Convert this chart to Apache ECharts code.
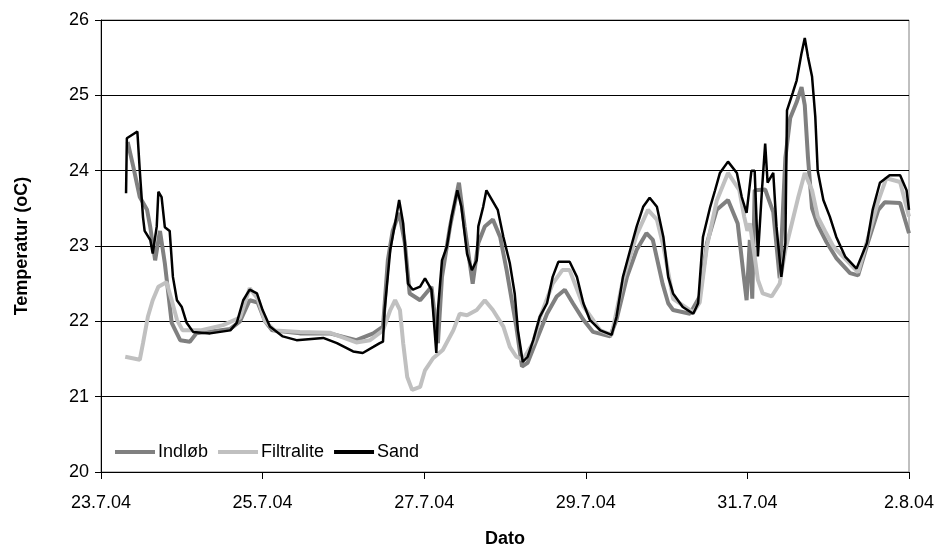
<!DOCTYPE html>
<html>
<head>
<meta charset="utf-8">
<script src="https://cdn.jsdelivr.net/npm/echarts@6/dist/echarts.min.js"></script>
<style>
    html, body { margin: 0; padding: 0; background: #fff; }
    #chart { width: 947px; height: 548px; }
</style>
</head>
<body>
<div id="chart"></div>
<script>
// x = days after 23.7.04, y = temperature (oC)
var dateLabels = ['23.7.04', '25.7.04', '27.7.04', '29.7.04', '31.7.04', '2.8.04'];
var seriesNames = ['Indløb', 'Filtralite', 'Sand'];

var indlobData = [
    [0.33, 24.38], [0.40, 24.05], [0.48, 23.65], [0.57, 23.48], [0.61, 23.25], [0.67, 22.81],
    [0.73, 23.2], [0.79, 22.77], [0.875, 21.98], [0.98, 21.75], [1.10, 21.73], [1.18, 21.84],
    [1.60, 21.9], [1.72, 22.0], [1.84, 22.28], [1.94, 22.25], [2.03, 22.0], [2.12, 21.88],
    [2.46, 21.84], [2.83, 21.84], [3.16, 21.75], [3.37, 21.84], [3.49, 21.93], [3.55, 22.81],
    [3.61, 23.2], [3.69, 23.44], [3.76, 23.04], [3.82, 22.37], [3.95, 22.28], [4.09, 22.46],
    [4.17, 21.71], [4.22, 22.59], [4.32, 23.26], [4.43, 23.84], [4.50, 23.26], [4.60, 22.5],
    [4.67, 23.04], [4.75, 23.26], [4.85, 23.35], [4.94, 23.12], [5.02, 22.68], [5.14, 21.93],
    [5.21, 21.4], [5.28, 21.45], [5.39, 21.75], [5.52, 22.1], [5.64, 22.33], [5.74, 22.42],
    [5.84, 22.24], [5.97, 22.02], [6.09, 21.86], [6.30, 21.8], [6.38, 22.02], [6.51, 22.59],
    [6.63, 22.95], [6.75, 23.17], [6.83, 23.08], [6.95, 22.5], [7.02, 22.24], [7.08, 22.15],
    [7.29, 22.1], [7.41, 22.33], [7.50, 23.04], [7.62, 23.48], [7.76, 23.61], [7.88, 23.3],
    [7.95, 22.64], [7.99, 22.28], [8.03, 23.08], [8.06, 22.3], [8.09, 23.74], [8.22, 23.75],
    [8.32, 23.45], [8.40, 22.57], [8.47, 24.17], [8.53, 24.7], [8.61, 24.91], [8.67, 25.11],
    [8.71, 24.87], [8.75, 24.17], [8.80, 23.5], [8.87, 23.28], [8.98, 23.05], [9.10, 22.84],
    [9.27, 22.64], [9.37, 22.61], [9.49, 23.04], [9.62, 23.48], [9.70, 23.58], [9.89, 23.57],
    [10.0, 23.17]
];

var filtraliteData = [
    [0.30, 21.53], [0.48, 21.49], [0.52, 21.71], [0.58, 22.06], [0.64, 22.28], [0.71, 22.46],
    [0.81, 22.52], [0.875, 22.28], [0.94, 22.02], [1.01, 21.88], [1.23, 21.88], [1.51, 21.95],
    [1.72, 22.05], [1.84, 22.44], [1.94, 22.3], [2.03, 22.0], [2.15, 21.88], [2.46, 21.86],
    [2.83, 21.85], [3.16, 21.72], [3.33, 21.75], [3.49, 21.88], [3.58, 22.15], [3.64, 22.28],
    [3.70, 22.15], [3.74, 21.71], [3.79, 21.26], [3.85, 21.09], [3.95, 21.13], [4.01, 21.35],
    [4.11, 21.51], [4.23, 21.62], [4.36, 21.88], [4.44, 22.1], [4.53, 22.08], [4.65, 22.15],
    [4.75, 22.28], [4.85, 22.15], [4.98, 21.93], [5.06, 21.66], [5.14, 21.53], [5.22, 21.49],
    [5.35, 21.72], [5.43, 22.04], [5.59, 22.5], [5.71, 22.68], [5.80, 22.68], [5.97, 22.2],
    [6.18, 21.88], [6.32, 21.82], [6.46, 22.55], [6.63, 23.15], [6.77, 23.48], [6.88, 23.35],
    [6.96, 23.0], [7.08, 22.3], [7.33, 22.12], [7.41, 22.25], [7.50, 23.0], [7.62, 23.6],
    [7.76, 23.97], [7.90, 23.74], [7.96, 23.39], [8.00, 23.2], [8.03, 23.3], [8.09, 22.86],
    [8.13, 22.55], [8.19, 22.37], [8.30, 22.33], [8.40, 22.5], [8.47, 22.95], [8.55, 23.3],
    [8.63, 23.65], [8.71, 23.97], [8.80, 23.74], [8.87, 23.39], [8.96, 23.2], [9.06, 23.0],
    [9.37, 22.65], [9.49, 23.1], [9.62, 23.6], [9.72, 23.9], [9.89, 23.85], [10.0, 23.39]
];

var sandData = [
    [0.31, 23.7], [0.32, 24.43], [0.45, 24.52], [0.48, 24.0], [0.52, 23.38], [0.54, 23.2],
    [0.61, 23.08], [0.64, 22.9], [0.69, 23.26], [0.71, 23.72], [0.75, 23.65], [0.79, 23.25],
    [0.85, 23.2], [0.89, 22.59], [0.94, 22.28], [1.0, 22.19], [1.06, 21.98], [1.14, 21.86],
    [1.35, 21.84], [1.60, 21.88], [1.68, 21.98], [1.76, 22.28], [1.84, 22.42], [1.93, 22.37],
    [2.0, 22.15], [2.09, 21.93], [2.25, 21.8], [2.42, 21.75], [2.75, 21.78], [2.92, 21.71],
    [3.12, 21.6], [3.24, 21.58], [3.37, 21.66], [3.45, 21.71], [3.49, 21.73], [3.51, 22.15],
    [3.58, 22.95], [3.64, 23.3], [3.69, 23.61], [3.74, 23.3], [3.80, 22.5], [3.86, 22.42],
    [3.95, 22.46], [4.01, 22.57], [4.09, 22.42], [4.15, 21.58], [4.17, 22.15], [4.22, 22.81],
    [4.28, 22.99], [4.34, 23.39], [4.41, 23.74], [4.46, 23.52], [4.53, 22.9], [4.59, 22.68],
    [4.65, 22.81], [4.67, 23.26], [4.73, 23.52], [4.77, 23.74], [4.84, 23.61], [4.91, 23.48],
    [4.98, 23.12], [5.06, 22.77], [5.12, 22.37], [5.16, 21.88], [5.22, 21.46], [5.28, 21.53],
    [5.35, 21.75], [5.43, 22.06], [5.52, 22.24], [5.59, 22.59], [5.66, 22.79], [5.80, 22.79],
    [5.89, 22.59], [5.97, 22.24], [6.05, 22.02], [6.18, 21.88], [6.32, 21.82], [6.38, 22.06],
    [6.46, 22.59], [6.55, 22.95], [6.63, 23.26], [6.71, 23.52], [6.79, 23.64], [6.88, 23.52],
    [6.96, 23.12], [7.02, 22.59], [7.08, 22.37], [7.20, 22.19], [7.33, 22.1], [7.39, 22.24],
    [7.45, 23.12], [7.54, 23.52], [7.60, 23.74], [7.66, 23.97], [7.76, 24.12], [7.87, 23.97],
    [7.93, 23.65], [7.99, 23.44], [8.05, 24.0], [8.09, 24.0], [8.13, 22.86], [8.18, 23.74],
    [8.22, 24.36], [8.25, 23.84], [8.32, 23.97], [8.36, 23.26], [8.42, 22.59], [8.47, 23.04],
    [8.49, 24.8], [8.56, 25.03], [8.61, 25.2], [8.67, 25.56], [8.71, 25.76], [8.75, 25.51],
    [8.80, 25.25], [8.84, 24.72], [8.87, 24.0], [8.94, 23.61], [9.02, 23.39], [9.10, 23.12],
    [9.21, 22.86], [9.35, 22.7], [9.48, 23.04], [9.55, 23.48], [9.64, 23.84], [9.76, 23.94],
    [9.89, 23.94], [9.97, 23.74], [10.0, 23.48]
];

var font = '"Liberation Sans", Arial, sans-serif';
var chart = echarts.init(document.getElementById('chart'));

function makeSeries(name, data, color, width) {
    return {
        name: name,
        type: 'line',
        data: data,
        symbol: 'none',
        showSymbol: false,
        lineStyle: { color: color, width: width },
        itemStyle: { color: color },
        animation: false
    };
}

chart.setOption({
    animation: false,
    backgroundColor: '#fff',
    textStyle: { fontFamily: font },
    grid: {
        left: 101, right: 38, top: 20, bottom: 76,
        containLabel: false,
        outerBoundsMode: 'none',
        show: true,
        borderColor: '#808080',
        borderWidth: 1
    },
    legend: {
        left: 110,
        top: 438,
        icon: 'rect',
        itemWidth: 40,
        itemHeight: 4,
        itemGap: 10,
        textStyle: { fontFamily: font, fontSize: 18, color: '#000', padding: [0, 0, 0, -2] },
        data: [
            { name: seriesNames[0], itemStyle: { color: '#808080' } },
            { name: seriesNames[1], itemStyle: { color: '#c0c0c0' } },
            { name: seriesNames[2], itemStyle: { color: '#000' } }
        ]
    },
    xAxis: {
        type: 'value',
        min: 0,
        max: 10,
        interval: 2,
        name: 'Dato',
        nameLocation: 'middle',
        nameGap: 58,
        nameTextStyle: { fontFamily: font, fontSize: 18, fontWeight: 'bold', color: '#000' },
        axisLine: { onZero: false, lineStyle: { color: '#000', width: 1 } },
        axisTick: { show: true, length: 7, lineStyle: { color: '#000' } },
        axisLabel: {
            fontFamily: font, fontSize: 18, color: '#000', margin: 22,
            formatter: function(v) { return dateLabels[Math.round(v / 2)]; }
        },
        splitLine: { show: false }
    },
    yAxis: {
        type: 'value',
        min: 20,
        max: 26,
        interval: 1,
        name: 'Temperatur (oC)',
        nameLocation: 'middle',
        nameGap: 70,
        nameTextStyle: { fontFamily: font, fontSize: 18, fontWeight: 'bold', color: '#000' },
        axisLine: { show: true, lineStyle: { color: '#000', width: 1 } },
        axisTick: { show: true, length: 6, lineStyle: { color: '#000' } },
        axisLabel: { fontFamily: font, fontSize: 18, color: '#000', margin: 12 },
        splitLine: { show: true, lineStyle: { color: '#000', width: 1 } }
    },
    series: [
        makeSeries(seriesNames[0], indlobData, '#808080', 4),
        makeSeries(seriesNames[1], filtraliteData, '#c0c0c0', 4),
        makeSeries(seriesNames[2], sandData, '#000000', 2.5)
    ]
});
</script>
</body>
</html>
